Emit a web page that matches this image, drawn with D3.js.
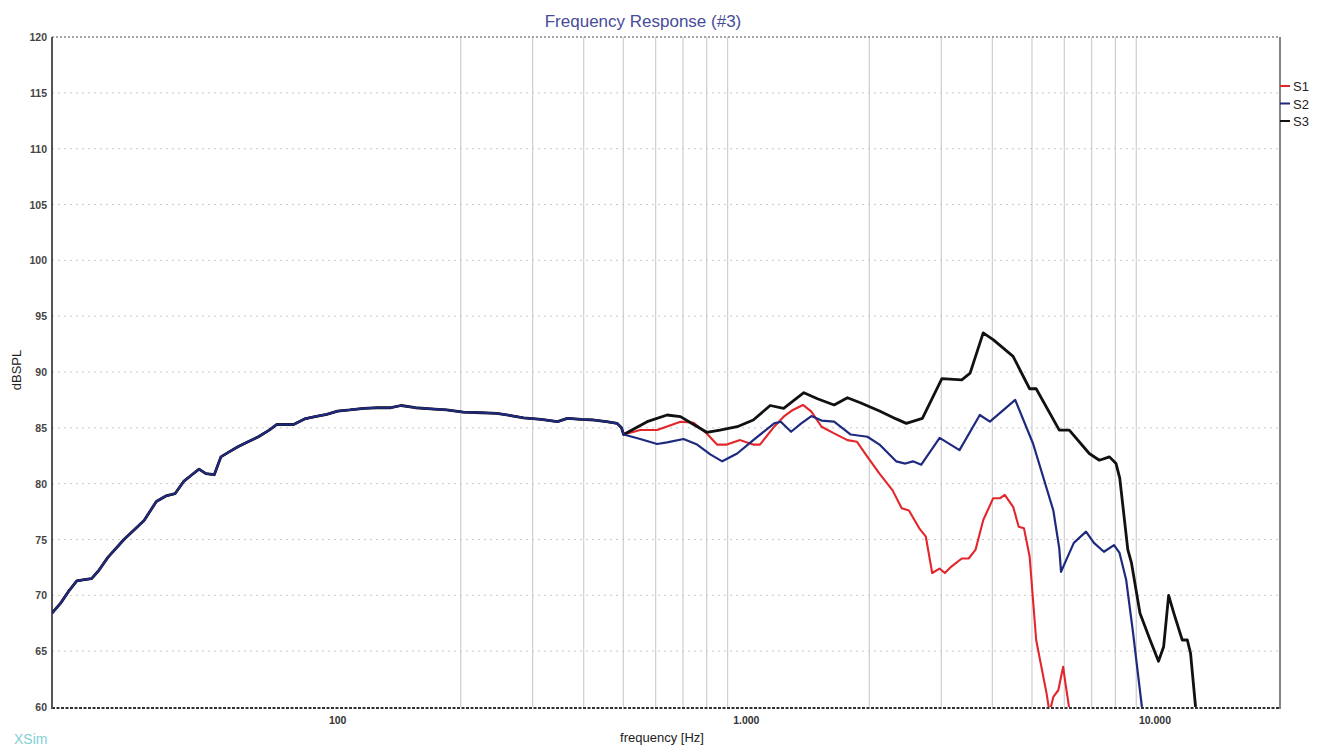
<!DOCTYPE html>
<html><head><meta charset="utf-8">
<script src="https://cdn.jsdelivr.net/npm/d3@7"></script>
<style>
html,body{margin:0;padding:0;background:#fff;}
svg{display:block;font-family:"Liberation Sans",Arial,sans-serif;}
</style></head>
<body>
<svg id="c" width="1322" height="746"></svg>
<script>
// ---- data ----
const yTicks = [60,65,70,75,80,85,90,95,100,105,110,115,120];
const xTickValues = [100,1000,10000];
const xTickLabels = ["100","1.000","10.000"];
const gridFreqs = [200,300,400,500,600,700,800,900,2000,3000,4000,5000,6000,7000,8000,9000];
const seriesNames = ["S1","S2","S3"];
const seriesColors = ["#e3262b","#1e2a7e","#111111"];

const commonFreq = [20,21,22,23,24,25,26,27.4,30,33.6,36,38,40,42,44,45.8,47.6,49.9,51.8,54,57,60,64,68,71,75,78,83,88,94,100,107,116,125,135,143,155,169,185,203,225,245,265,285,315,345,365,395,424,455,483,495,501];
const commonDb   = [68.4,69.3,70.4,71.3,71.4,71.5,72.2,73.4,75.0,76.7,78.4,78.9,79.1,80.2,80.8,81.3,80.9,80.8,82.4,82.8,83.3,83.7,84.2,84.8,85.3,85.3,85.3,85.8,86.0,86.2,86.5,86.6,86.75,86.8,86.8,87.0,86.8,86.7,86.6,86.4,86.35,86.3,86.1,85.9,85.75,85.55,85.85,85.75,85.7,85.55,85.4,85.0,84.4];

const s1Freq = [550,605,650,690,743,800,848,896,966,1000,1040,1080,1170,1234,1300,1376,1443,1528,1640,1768,1866,1979,2118,2280,2400,2500,2650,2750,2850,2970,3060,3180,3367,3500,3640,3800,4020,4180,4290,4500,4640,4780,4934,5120,5430,5520,5640,5800,5960,6040,6160,6200];
const s1Db   = [84.8,84.8,85.2,85.55,85.45,84.5,83.5,83.5,83.9,83.7,83.5,83.5,85.1,86.0,86.6,87.05,86.45,85.1,84.5,83.9,83.75,82.4,80.9,79.4,77.8,77.6,76.0,75.25,72.0,72.4,72.0,72.6,73.3,73.3,74.1,76.75,78.7,78.7,79.0,77.9,76.15,76.0,73.5,66.0,61.2,59.5,60.9,61.5,63.6,62.1,60.0,59.5];

const s2Freq = [550,605,640,702,758,818,873,950,1040,1170,1214,1287,1363,1443,1528,1640,1801,1979,2118,2326,2450,2557,2680,2972,3324,3727,3945,4550,5030,5640,5832,5890,6070,6330,6780,7090,7500,7940,8190,8500,8820,9290];
const s2Db   = [84.0,83.55,83.7,84.0,83.5,82.6,82.0,82.7,83.9,85.4,85.55,84.65,85.4,86.05,85.65,85.55,84.4,84.2,83.5,82.0,81.8,82.0,81.7,84.1,83.0,86.15,85.55,87.5,83.6,77.6,74.2,72.1,73.2,74.7,75.7,74.7,73.9,74.5,73.8,71.4,66.9,60.0];

const s3Freq = [572,640,690,743,800,862,950,1040,1144,1234,1383,1493,1640,1768,1901,2118,2326,2463,2697,3010,3367,3529,3799,4018,4496,4934,5120,5832,6170,6905,7310,7737,8030,8200,8580,8760,9190,9730,10200,10500,10800,11120,11660,12000,12220,12570];
const s3Db   = [85.55,86.15,86.0,85.3,84.6,84.8,85.1,85.7,87.0,86.75,88.15,87.6,87.05,87.7,87.25,86.5,85.8,85.4,85.85,89.4,89.3,89.9,93.5,92.9,91.4,88.5,88.5,84.8,84.8,82.7,82.1,82.4,81.8,80.5,74.1,72.9,68.4,66.0,64.1,65.4,70.0,68.4,66.0,66.0,64.8,60.0];

// ---- chart ----
const svg = d3.select("#c");
const L=52, R=1278, T=37, B=707;
const x = d3.scaleLog().domain([20,20000]).range([L,R]);
const y = d3.scaleLinear().domain([60,120]).range([B,T]);

svg.append("defs").append("clipPath").attr("id","clip")
  .append("rect").attr("x",L).attr("y",T).attr("width",R-L).attr("height",B-T);

// vertical grid
svg.append("g").selectAll("line").data(gridFreqs).join("line")
  .attr("x1",d=>x(d)).attr("x2",d=>x(d)).attr("y1",T).attr("y2",B)
  .attr("stroke","#cfcfcf").attr("stroke-width",1.2);

// horizontal grid
svg.append("g").selectAll("line").data(yTicks.filter(v=>v>60&&v<120)).join("line")
  .attr("x1",L).attr("x2",R).attr("y1",d=>y(d)).attr("y2",d=>y(d))
  .attr("stroke","#c8c8c8").attr("stroke-width",1).attr("stroke-dasharray","2,4");

// top border dotted
svg.append("line").attr("x1",L).attr("x2",R+2).attr("y1",y(120)).attr("y2",y(120))
  .attr("stroke","#888").attr("stroke-width",1.5).attr("stroke-dasharray","2,2");
// bottom axis dashed
svg.append("line").attr("x1",L).attr("x2",R+2).attr("y1",B+1).attr("y2",B+1)
  .attr("stroke","#333").attr("stroke-width",1.8).attr("stroke-dasharray","3,1.5");
// right border
svg.append("line").attr("x1",R+2).attr("x2",R+2).attr("y1",T).attr("y2",B+2)
  .attr("stroke","#666").attr("stroke-width",1.6);
// left axis
svg.append("line").attr("x1",L).attr("x2",L).attr("y1",T).attr("y2",B+2)
  .attr("stroke","#555").attr("stroke-width",2);

// y tick labels
svg.append("g").selectAll("text").data(yTicks).join("text")
  .attr("x",47).attr("y",d=>y(d)+4).attr("text-anchor","end")
  .attr("font-size",10.5).attr("font-weight","bold").attr("fill","#444")
  .text(d=>d);

// x tick labels
svg.append("g").selectAll("text").data(xTickValues).join("text")
  .attr("x",d=>x(d)).attr("y",724).attr("text-anchor","middle")
  .attr("font-size",10.5).attr("font-weight","bold").attr("fill","#333")
  .text((d,i)=>xTickLabels[i]);

// series
function build(f,v){
  const pts = commonFreq.map((d,i)=>({f:d,v:commonDb[i]}));
  f.forEach((d,i)=>pts.push({f:d,v:v[i]}));
  return pts;
}
const series = [
  {name:"S1", pts:build(s1Freq,s1Db), color:seriesColors[0], w:2.1},
  {name:"S3", pts:build(s3Freq,s3Db), color:seriesColors[2], w:2.8},
  {name:"S2", pts:build(s2Freq,s2Db), color:seriesColors[1], w:2.2}
];
const line = d3.line().x(d=>x(d.f)).y(d=>y(d.v));
const g = svg.append("g").attr("clip-path","url(#clip)");
g.selectAll("path").data(series).join("path")
  .attr("d",d=>line(d.pts)).attr("fill","none")
  .attr("stroke",d=>d.color).attr("stroke-width",d=>d.w)
  .attr("stroke-linejoin","round");

// legend
const lg = svg.append("g");
seriesNames.forEach((n,i)=>{
  const yy = 86 + i*17.5;
  lg.append("line").attr("x1",R+2).attr("x2",R+12).attr("y1",yy).attr("y2",yy)
    .attr("stroke",seriesColors[i]).attr("stroke-width",2);
  lg.append("text").attr("x",R+15).attr("y",yy+5).attr("font-size",13).attr("fill","#222").text(n);
});

// title & labels
svg.append("text").attr("x",643).attr("y",27).attr("text-anchor","middle")
  .attr("font-size",17).attr("fill","#474c9a").text("Frequency Response (#3)");
svg.append("text").attr("x",662).attr("y",742).attr("text-anchor","middle")
  .attr("font-size",13).attr("fill","#222").text("frequency [Hz]");
svg.append("text").attr("transform","translate(21,370) rotate(-90)").attr("text-anchor","middle")
  .attr("font-size",13).attr("fill","#222").text("dBSPL");
svg.append("text").attr("x",14).attr("y",744).attr("font-size",14).attr("fill","#7fcfd5").text("XSim");
</script>
</body></html>
